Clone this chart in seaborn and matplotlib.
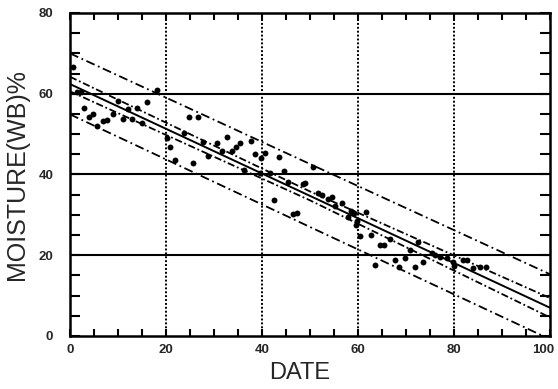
import matplotlib
matplotlib.use("Agg")
import matplotlib.pyplot as plt
import matplotlib.transforms as mtransforms
import seaborn as sns
import pandas as pd
from matplotlib.ticker import MultipleLocator

# ---- data ----
date = [0.6, 1.5, 2.3, 2.9, 4.8, 3.9, 5.6, 6.9, 7.7, 9.0, 10.0, 11.0, 12.1, 13.0,
        14.0, 15.0, 16.0, 18.1, 20.2, 20.8, 21.9, 23.8, 24.8, 26.7, 25.7, 27.7,
        28.8, 30.6, 31.6, 32.7, 33.8, 34.6, 35.4, 37.7, 38.5, 39.7, 40.6, 36.3,
        39.6, 41.7, 43.6, 44.6, 45.4, 48.5, 50.6, 42.4, 46.5, 47.3, 49.0, 51.7,
        53.7, 55.2, 56.7, 57.9, 59.2, 61.7, 59.8, 59.6, 60.4, 62.7, 63.5, 64.6,
        65.4, 66.7, 67.7, 68.5, 69.8, 70.8, 71.9, 72.5, 73.5, 75.4, 76.0, 77.1,
        78.5, 79.8, 80.0, 81.9, 82.7, 84.0, 85.4, 86.7, 52.5, 54.5, 58.5]
moisture = [66.6, 60.4, 60.4, 56.4, 55.0, 54.2, 52.0, 53.2, 53.6, 55.0, 58.3, 53.7,
            56.2, 53.7, 56.4, 52.7, 57.9, 60.9, 49.0, 46.8, 43.5, 50.2, 54.2, 54.2,
            42.8, 48.0, 44.6, 47.9, 45.8, 49.3, 45.9, 46.8, 47.7, 48.3, 45.0, 44.0,
            45.3, 41.0, 40.3, 40.3, 44.4, 40.8, 38.1, 37.6, 41.8, 33.6, 30.2, 30.4,
            37.9, 35.4, 33.9, 32.2, 33.0, 29.5, 30.4, 30.7, 28.5, 27.5, 24.8, 25.1,
            17.6, 22.5, 22.5, 24.0, 18.7, 17.1, 19.3, 21.3, 17.1, 23.4, 18.3, 20.5,
            20.0, 19.6, 19.3, 18.3, 17.3, 18.8, 18.8, 16.8, 17.1, 17.1, 35.0, 34.5,
            31.0]

line_x = [0, 50, 100]
fit_line = [62.4, 34.7, 7.0]
conf_upper = [64.2, 35.8, 9.4]
conf_lower = [60.6, 33.6, 4.6]
pred_upper = [70.0, 42.6, 15.3]
pred_lower = [54.9, 27.0, -0.8]

x_ticks = [0, 20, 40, 60, 80, 100]
y_ticks = [0, 20, 40, 60, 80]

# ---- drawing ----
sns.set_style("white")
plt.rcParams['font.family'] = ['Liberation Sans', 'DejaVu Sans']

fig = plt.figure(figsize=(5.58, 3.89), dpi=100)
ax = fig.add_axes([70/558, 1-336/389, 480/558, 323/389])

pts = pd.DataFrame({"date": date, "moisture": moisture})
sns.scatterplot(data=pts, x="date", y="moisture", ax=ax, color="black",
                s=18, edgecolor="black", linewidth=0, zorder=4)

lines = pd.DataFrame({"x": line_x, "fit": fit_line, "cu": conf_upper,
                      "cl": conf_lower, "pu": pred_upper, "pl": pred_lower})
sns.lineplot(data=lines, x="x", y="fit", ax=ax, color="black", lw=1.4,
             estimator=None, sort=False, zorder=3)
for col in ["cu", "cl"]:
    sns.lineplot(data=lines, x="x", y=col, ax=ax, color="black", lw=1.3,
                 linestyle=(0, (4, 1.5, 1, 1.5)), estimator=None, sort=False, zorder=3)
for col in ["pu", "pl"]:
    sns.lineplot(data=lines, x="x", y=col, ax=ax, color="black", lw=1.3,
                 linestyle=(0, (5, 2, 1, 2)), estimator=None, sort=False, zorder=3)

ax.set_xlim(0, 100)
ax.set_ylim(0, 80)

# grid
for g in [20, 40, 60]:
    ax.axhline(g, color="black", lw=1.5, zorder=2)
for g in [20, 40, 60, 80]:
    ax.axvline(g, color="black", lw=1.4, linestyle=(0, (1, 1)), zorder=2)

ax.set_xticks(x_ticks)
ax.set_yticks(y_ticks)
ax.set_xticklabels([str(t) for t in x_ticks], fontsize=9.5, fontweight="bold")
ax.set_yticklabels([str(t) for t in y_ticks], fontsize=9.5, fontweight="bold")
ax.xaxis.set_minor_locator(MultipleLocator(5))
ax.yaxis.set_minor_locator(MultipleLocator(5))
ax.tick_params(axis="x", which="both", direction="in", top=True, bottom=True,
               length=5, width=1.5, color="black", pad=6)
ax.tick_params(axis="y", which="both", direction="in", left=True, right=True,
               length=7, width=1.5, color="black", pad=12)

# keep the last x label inside the canvas
last = ax.get_xticklabels()[-1]
last.set_transform(last.get_transform() +
                   mtransforms.ScaledTranslation(-5/72, 0, fig.dpi_scale_trans))

for sp in ax.spines.values():
    sp.set_visible(True)
    sp.set_color("black")
    sp.set_linewidth(1.8)

ax.set_xlabel("DATE", fontsize=17)
ax.set_ylabel("MOISTURE(WB)%", fontsize=18)
ax.xaxis.set_label_coords(0.479, -0.08)
ax.yaxis.set_label_coords(-0.085, 0.5)

fig.savefig("out.png", dpi=100)
